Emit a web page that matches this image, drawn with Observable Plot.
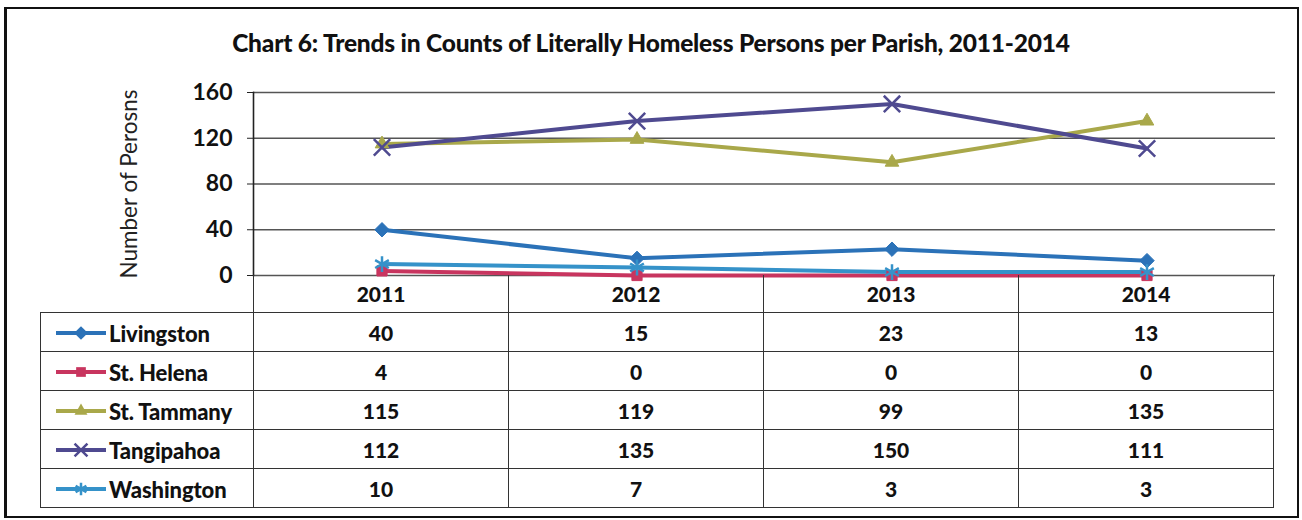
<!DOCTYPE html>
<html>
<head>
<meta charset="utf-8">
<script src="https://cdn.jsdelivr.net/npm/d3@7"></script>
<script src="https://cdn.jsdelivr.net/npm/@observablehq/plot@0.6"></script>
<style>
  html, body { margin: 0; padding: 0; background: #fff; }
  body { width: 1302px; height: 520px; position: relative; overflow: hidden; font-family: Lato, "Open Sans", sans-serif; color: #111; }
  #border { position: absolute; left: 4px; top: 7px; width: 1295px; height: 511px; box-sizing: border-box; border: 2px solid #111; border-left-width: 3px; }
  #title { position: absolute; left: 0; width: 1302px; top: 28px; text-align: center; font-weight: 900; font-size: 24.5px; letter-spacing: -0.2px; }
  #chart { position: absolute; left: 0; top: 75px; }
  #tbl { position: absolute; left: 40px; top: 275px; border-collapse: collapse; table-layout: fixed; }
  #tbl td { border: 1.5px solid #333; text-align: center; font-weight: 900; font-size: 21px; padding: 0; }
  #tbl tr.head td { height: 37px; border-top: none; }
  #tbl tr.head td.blank { border: none; border-bottom: 1.5px solid #333; }
  #tbl tr.row td { height: 38px; }
  #tbl td.name { text-align: left; padding-left: 13px; white-space: nowrap; font-size: 22px; letter-spacing: -0.1px; }
  #tbl td.name svg { vertical-align: middle; margin-right: 1px; }
  #tbl td.name span { vertical-align: middle; }
</style>
</head>
<body>
<div id="border"></div>
<div id="title">Chart 6: Trends in Counts of Literally Homeless Persons per Parish, 2011-2014</div>
<div id="chart"></div>
<table id="tbl"></table>
<script>
const years = ["2011", "2012", "2013", "2014"];
const parishes = ["Livingston", "St. Helena", "St. Tammany", "Tangipahoa", "Washington"];
const livingston = [40, 15, 23, 13];
const stHelena = [4, 0, 0, 0];
const stTammany = [115, 119, 99, 135];
const tangipahoa = [112, 135, 150, 111];
const washington = [10, 7, 3, 3];
const yTicks = [0, 40, 80, 120, 160];
const colors = ["#2b72b8", "#c8355f", "#a9a84a", "#4f4a90", "#3592c9"];
const symbols = ["diamond2", "square2", "triangle2", "times", "asterisk"];
const yLabel = "Number of Perosns";

const seriesValues = [livingston, stHelena, stTammany, tangipahoa, washington];
const data = [];
parishes.forEach((p, i) => years.forEach((yr, j) => data.push({parish: p, year: yr, value: seriesValues[i][j]})));

const filled = new Set(["diamond2", "square2", "triangle2"]);

const marks = [
  Plot.ruleY(yTicks, {stroke: "#555", strokeWidth: 1.6}),
  Plot.frame({anchor: "left", stroke: "#222", strokeWidth: 1.6}),
  Plot.axisY({ticks: yTicks, tickSize: 6, tickPadding: 15, fontSize: 23, fontWeight: 700, label: null, stroke: "#222"}),
  Plot.text([yLabel], {frameAnchor: "left", textAnchor: "middle", dx: -124, rotate: -90, fontSize: 22.5, fill: "#222", text: d => d}),
  Plot.line(data, {x: "year", y: "value", z: "parish", stroke: "parish", strokeWidth: 4})
];
parishes.forEach((p, i) => {
  const sub = data.filter(d => d.parish === p);
  const sym = symbols[i];
  if (filled.has(sym)) {
    marks.push(Plot.dot(sub, {x: "year", y: "value", symbol: () => sym, fill: colors[i], stroke: colors[i], strokeWidth: 1, r: 6.5}));
  } else {
    marks.push(Plot.dot(sub, {x: "year", y: "value", symbol: () => sym, stroke: colors[i], strokeWidth: 2.5, r: 7.5}));
  }
});

const chart = Plot.plot({
  width: 1302,
  height: 210,
  marginLeft: 253,
  marginRight: 27,
  marginTop: 17,
  marginBottom: 10,
  x: {type: "band", domain: years, padding: 0, axis: null},
  y: {domain: [0, 160], axis: null},
  color: {domain: parishes, range: colors},
  symbol: {domain: symbols, range: symbols},
  style: {fontFamily: "Lato, 'Open Sans', sans-serif", color: "#111", overflow: "visible"},
  marks
});
document.getElementById("chart").appendChild(chart);

// Data table
const tbl = d3.select("#tbl");
const cg = tbl.append("colgroup");
cg.append("col").style("width", "213px");
years.forEach(() => cg.append("col").style("width", "255px"));
const head = tbl.append("tr").attr("class", "head");
head.append("td").attr("class", "blank");
years.forEach(y => head.append("td").text(y));
const symMap = {diamond2: d3.symbolDiamond2, square2: d3.symbolSquare2, triangle2: d3.symbolTriangle2, times: d3.symbolTimes, asterisk: d3.symbolAsterisk};
parishes.forEach((p, i) => {
  const tr = tbl.append("tr").attr("class", "row");
  const td = tr.append("td").attr("class", "name");
  const svg = td.append("svg").attr("width", 54).attr("height", 18);
  svg.append("line").attr("x1", 2).attr("x2", 52).attr("y1", 9).attr("y2", 9).attr("stroke", colors[i]).attr("stroke-width", 4);
  const sym = symbols[i];
  const path = svg.append("path").attr("transform", "translate(27,9)")
    .attr("d", d3.symbol(symMap[sym], filled.has(sym) ? 120 : 110)());
  if (filled.has(sym)) path.attr("fill", colors[i]);
  else path.attr("fill", "none").attr("stroke", colors[i]).attr("stroke-width", 2.5);
  td.append("span").text(p);
  seriesValues[i].forEach(v => tr.append("td").text(v));
});
</script>
</body>
</html>
